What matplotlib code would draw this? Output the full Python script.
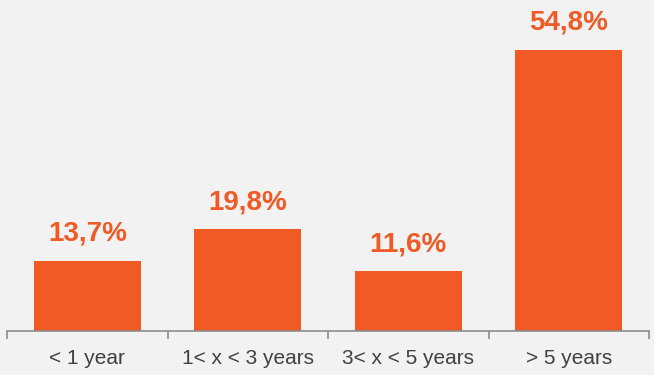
import numpy as np
import matplotlib.pyplot as plt

categories = ['< 1 year', '1< x < 3 years', '3< x < 5 years', '> 5 years']
values = [13.7, 19.8, 11.6, 54.8]
labels = ['13,7%', '19,8%', '11,6%', '54,8%']

orange = '#F15A24'
bg = '#F2F2F2'
grey = '#8C8C8C'

plt.rcParams['font.family'] = ['Liberation Sans', 'DejaVu Sans']

fig = plt.figure(figsize=(6.54, 3.75), dpi=100, facecolor=bg)
ax = fig.add_axes([0.0107, 0.1173, 0.9817, 0.8827], facecolor=bg)

x = np.arange(len(categories))
ax.bar(x, values, width=0.667, color=orange, zorder=2)

for xi, v, lab in zip(x, values, labels):
    ax.annotate(lab, (xi, v), xytext=(0, 14), textcoords='offset pixels',
                ha='center', va='bottom', fontsize=20, fontweight='bold', color=orange)

ax.set_xlim(-0.5, len(categories) - 0.5)
ax.set_ylim(0, 64.5)

for s in ['top', 'right', 'left']:
    ax.spines[s].set_visible(False)
ax.spines['bottom'].set_color(grey)
ax.spines['bottom'].set_linewidth(1.2)

# separators between categories, labels centred under bars
ax.set_xticks(np.arange(-0.5, len(categories)), minor=False)
ax.set_xticklabels([])
ax.tick_params(axis='x', which='major', length=6, width=1.2, color=grey, direction='out')
ax.set_xticks(x, minor=True)
ax.set_xticklabels(categories, minor=True, fontsize=15, color='#404040')
ax.tick_params(axis='x', which='minor', length=0, pad=13)
ax.set_yticks([])

fig.savefig('out.png', dpi=100, facecolor=bg)
